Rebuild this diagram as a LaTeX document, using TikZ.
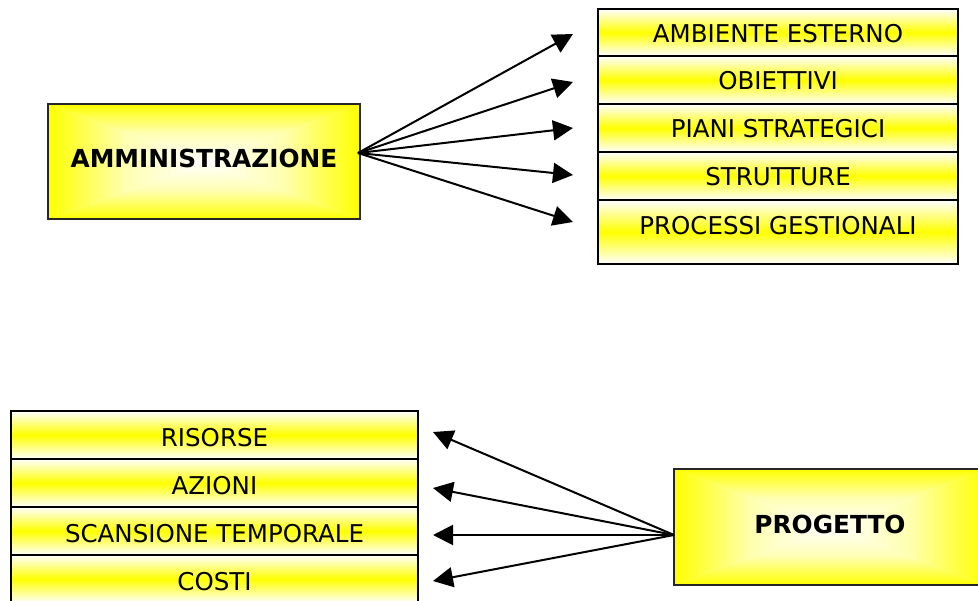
\documentclass[tikz,border=0pt]{standalone}
\usepackage{fontspec}
\setmainfont{DejaVu Sans}
\usetikzlibrary{arrows.meta}
\definecolor{boxyellow}{RGB}{255,255,0}

\tikzset{
  % main box: white core fading to yellow towards every edge
  glowbox/.style={draw=black!85, line width=2pt, inner sep=0pt,
    font=\fontsize{24.8}{28}\selectfont\bfseries, text height=18pt, text depth=5pt,
    path picture={
      \path (path picture bounding box.center) coordinate (gc);
      \fill[boxyellow!30] (path picture bounding box.south west) rectangle (path picture bounding box.north east);
      \shade[top color=boxyellow, bottom color=white, middle color=boxyellow!30]
        (path picture bounding box.north west) -- (path picture bounding box.north east) -- (gc) -- cycle;
      \shade[top color=white, bottom color=boxyellow, middle color=boxyellow!30]
        (path picture bounding box.south west) -- (path picture bounding box.south east) -- (gc) -- cycle;
      \shade[left color=boxyellow, right color=white, middle color=boxyellow!30]
        (path picture bounding box.north west) -- (path picture bounding box.south west) -- (gc) -- cycle;
      \shade[left color=white, right color=boxyellow, middle color=boxyellow!30]
        (path picture bounding box.north east) -- (path picture bounding box.south east) -- (gc) -- cycle;
    }},
  % list row: yellow band across the middle, pale top and bottom
  rowbox/.style={draw=black, line width=1.5pt, inner sep=0pt,
    top color=white, bottom color=white, middle color=boxyellow,
    font=\fontsize{24.5}{28}\selectfont, text height=20pt, text depth=0pt},
  link/.style={draw=black, line width=2pt,
    -{Triangle[length=20pt, width=20pt]}},
}

\begin{document}
\begin{tikzpicture}[x=1pt, y=-1pt]
  \useasboundingbox (0,0) rectangle (978,601);
  \clip (0,0) rectangle (978,601);

  % upper group
  \node[glowbox, minimum width=312pt, minimum height=115pt] (amm) at (204,161.5) {AMMINISTRAZIONE};

  \node[rowbox, minimum width=360pt, minimum height=47pt] (r1) at (778,32.5) {AMBIENTE ESTERNO};
  \node[rowbox, minimum width=360pt, minimum height=48pt] (r2) at (778,80) {OBIETTIVI};
  \node[rowbox, minimum width=360pt, minimum height=48pt] (r3) at (778,128) {PIANI STRATEGICI};
  \node[rowbox, minimum width=360pt, minimum height=48pt] (r4) at (778,176) {STRUTTURE};
  \node[rowbox, minimum width=360pt, text height=34.5pt, text depth=29.5pt] (r5) at (778,232) {PROCESSI GESTIONALI};

  \coordinate (ammout) at (358,153);
  \coordinate (t1) at (573,34);
  \coordinate (t2) at (573,82);
  \coordinate (t3) at (573,128);
  \coordinate (t4) at (573,175);
  \coordinate (t5) at (573,222);
  \foreach \t in {t1,t2,t3,t4,t5}
    \draw[link] (ammout) -- (\t);

  % lower group
  \node[glowbox, minimum width=312pt, minimum height=116pt] (prog) at (830,527) {PROGETTO};

  \node[rowbox, minimum width=407pt, minimum height=48pt, text height=23pt] (s1) at (214.5,435) {RISORSE};
  \node[rowbox, minimum width=407pt, minimum height=48pt, text height=23pt] (s2) at (214.5,483) {AZIONI};
  \node[rowbox, minimum width=407pt, minimum height=48pt, text height=23pt] (s3) at (214.5,531) {SCANSIONE TEMPORALE};
  \node[rowbox, minimum width=407pt, minimum height=48pt, text height=23pt] (s4) at (214.5,579) {COSTI};

  \coordinate (progin) at (674,535);
  \coordinate (u1) at (433,432);
  \coordinate (u2) at (433,488);
  \coordinate (u3) at (433,535);
  \coordinate (u4) at (433,581);
  \foreach \u in {u1,u2,u3,u4}
    \draw[link] (progin) -- (\u);
\end{tikzpicture}
\end{document}
